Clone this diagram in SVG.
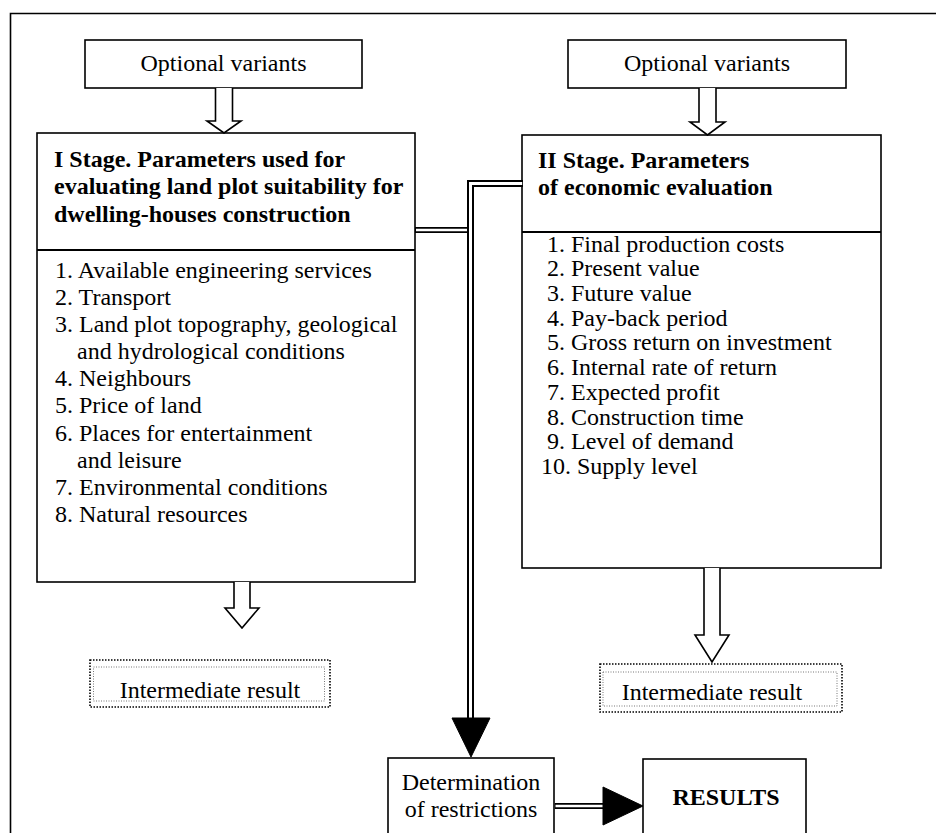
<svg xmlns="http://www.w3.org/2000/svg" width="936" height="833" viewBox="0 0 936 833">
<style>
.t{font-family:"Liberation Serif","Times New Roman",serif;font-size:24px;fill:#000}
.b{font-weight:bold}
.m{text-anchor:middle}
.box{fill:#fff;stroke:#000;stroke-width:1.6}
.hol{fill:#fff;stroke:#000;stroke-width:1.6;stroke-linejoin:miter}
.dot1{fill:#fff;stroke:#000;stroke-width:1.6;stroke-dasharray:1.5 1.5}
.dot2{fill:none;stroke:#777;stroke-width:1;stroke-dasharray:1 1.5}
.blk{fill:none;stroke:#000}
.wht{fill:none;stroke:#fff}
.head{fill:#000;stroke:#000;stroke-width:1}
</style>
<rect width="936" height="833" fill="#fff"/>
<path d="M10.5,833 V13.5 H936" fill="none" stroke="#000" stroke-width="1.6"/>

<g id="opt1">
<rect class="box" x="85" y="40" width="277" height="48"/>
<text class="t m" x="223.5" y="71">Optional variants</text>
</g>
<g id="opt2">
<rect class="box" x="568" y="40" width="278" height="48"/>
<text class="t m" x="707" y="71">Optional variants</text>
</g>

<g id="stage1">
<rect class="box" x="37" y="133" width="378" height="449"/>
<line x1="37" y1="250" x2="415" y2="250" stroke="#000" stroke-width="2"/>
<text class="t b" x="54" y="167">I Stage. Parameters used for</text>
<text class="t b" x="54" y="194">evaluating land plot suitability for</text>
<text class="t b" x="54" y="222">dwelling-houses construction</text>
<text class="t" x="55" y="278">1. Available engineering services</text>
<text class="t" x="55" y="305">2. Transport</text>
<text class="t" x="55" y="332">3. Land plot topography, geological</text>
<text class="t" x="77" y="359">and hydrological conditions</text>
<text class="t" x="55" y="386">4. Neighbours</text>
<text class="t" x="55" y="413">5. Price of land</text>
<text class="t" x="55" y="441">6. Places for entertainment</text>
<text class="t" x="77" y="468">and leisure</text>
<text class="t" x="55" y="495">7. Environmental conditions</text>
<text class="t" x="55" y="522">8. Natural resources</text>
</g>

<g id="stage2">
<rect class="box" x="522" y="135" width="359" height="433"/>
<line x1="522" y1="232" x2="881" y2="232" stroke="#000" stroke-width="2"/>
<text class="t b" x="538" y="168">II Stage. Parameters</text>
<text class="t b" x="538" y="195">of economic evaluation</text>
<text class="t" x="547" y="252">1. Final production costs</text>
<text class="t" x="547" y="276">2. Present value</text>
<text class="t" x="547" y="301">3. Future value</text>
<text class="t" x="547" y="326">4. Pay-back period</text>
<text class="t" x="547" y="350">5. Gross return on investment</text>
<text class="t" x="547" y="375">6. Internal rate of return</text>
<text class="t" x="547" y="400">7. Expected profit</text>
<text class="t" x="547" y="425">8. Construction time</text>
<text class="t" x="547" y="449">9. Level of demand</text>
<text class="t" x="541" y="474">10. Supply level</text>
</g>

<g id="inter1">
<rect class="dot1" x="90" y="660" width="240" height="47"/>
<rect class="dot2" x="93.5" y="667" width="231" height="34"/>
<text class="t m" x="210" y="698">Intermediate result</text>
</g>
<g id="inter2">
<rect class="dot1" x="600" y="664" width="242" height="48"/>
<rect class="dot2" x="603" y="672" width="234" height="34"/>
<text class="t m" x="712" y="700">Intermediate result</text>
</g>

<g id="restrictions">
<rect class="box" x="388" y="758" width="166" height="90"/>
<text class="t m" x="471" y="790">Determination</text>
<text class="t m" x="471" y="817">of restrictions</text>
</g>
<g id="results">
<rect class="box" x="643" y="759" width="163" height="90"/>
<text class="t b m" x="726" y="805">RESULTS</text>
</g>

<g id="connectors">
<path class="hol" d="M215.5,88 V121 H207 L224,133 L241,121 H232.5 V88"/>
<path class="hol" d="M699,88 V122 H690 L707.5,135 L725,122 H716 V88"/>
<path class="hol" d="M234,582 V608 H225 L242,628 L259,608 H250 V582"/>
<path class="hol" d="M704,568 V635 H695 L712,662 L729,635 H720 V568"/>
<path class="blk" stroke-width="6" d="M415,230 H471"/>
<path class="blk" stroke-width="7" d="M523,183.5 H470.5 V719"/>
<path class="wht" stroke-width="3" d="M522.2,183.5 H470.5 V720"/>
<path class="wht" stroke-width="2.5" d="M416,230 H467"/>
<polygon class="head" points="452,718 490,718 471,757"/>
<path class="blk" stroke-width="6" d="M554.8,806 H605"/>
<path class="wht" stroke-width="2.5" d="M555.5,806 H605"/>
<polygon class="head" points="603,787 643,806 603,825"/>
</g>
</svg>
